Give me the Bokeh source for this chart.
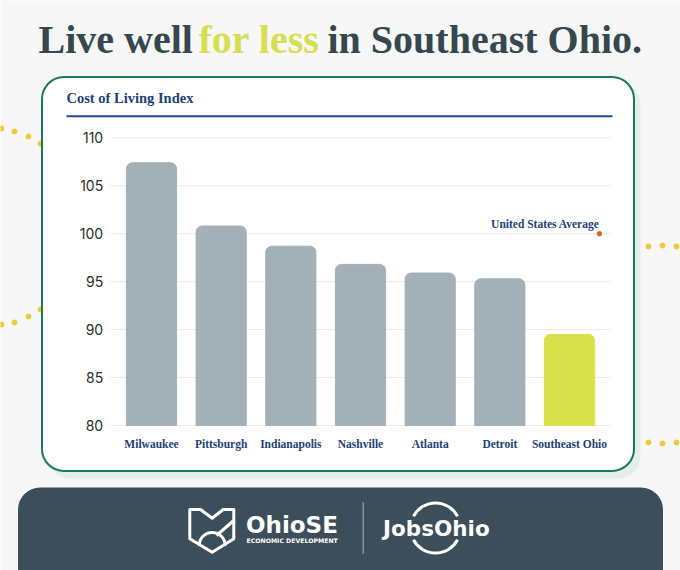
import numpy as np
from bokeh.plotting import figure
from bokeh.models import Range1d
from bokeh.core.properties import value
from bokeh.embed import file_html
from bokeh.resources import INLINE

# ---- data ----
cities = ["Milwaukee", "Pittsburgh", "Indianapolis", "Nashville", "Atlanta", "Detroit", "Southeast Ohio"]
index_values = [107.4, 100.8, 98.7, 96.8, 95.9, 95.3, 89.5]
bar_colors = ["#a3b0b6", "#a3b0b6", "#a3b0b6", "#a3b0b6", "#a3b0b6", "#a3b0b6", "#d8e04a"]
y_ticks = [80, 85, 90, 95, 100, 105, 110]
us_average = 100
title_parts = ["Live well", "for less", "in Southeast Ohio."]
chart_title = "Cost of Living Index"
us_label = "United States Average"

# ---- layout (canvas pixels) ----
W, H = 680, 570
PLOT_L, PLOT_R, PLOT_T, PLOT_B = 110.0, 610.0, 137.3, 425.0
PAD = 0.0885                      # category padding at each side
Y_MIN, Y_MAX = min(y_ticks), max(y_ticks)
NAVY = "#1e3f78"
SERIF = "Liberation Serif"
SANS = "DejaVu Sans"

n = len(cities)
positions = list(range(n))
unit = (PLOT_R - PLOT_L) / (n - 1 + 2 * (0.5 + PAD))
x_left = -0.5 - PAD
x_right = n - 0.5 + PAD
yscale = (PLOT_B - PLOT_T) / (Y_MAX - Y_MIN)

p = figure(width=W, height=H,
           x_range=Range1d(x_left - PLOT_L / unit, x_left + (W - PLOT_L) / unit),
           y_range=Range1d(Y_MIN - (H - PLOT_B) / yscale, Y_MAX + PLOT_T / yscale),
           x_axis_type=None, y_axis_type=None, title_location=None,
           output_backend="svg", toolbar_location=None, min_border=0)
p.extra_x_ranges = {"px": Range1d(0, W)}
p.extra_y_ranges = {"px": Range1d(H, 0)}
p.background_fill_color = "#f7f7f8"
p.border_fill_color = "#f7f7f8"
p.outline_line_color = None
PX = dict(x_range_name="px", y_range_name="px")

# ---- decorations ----
dot_x = [1, 14, 28, 40, 1, 14, 28, 40, 634, 648, 662, 676, 634, 648, 662, 676]
dot_y = [128, 131, 136, 143, 324, 322, 316, 309, 249, 246, 245, 246, 439, 442, 443, 442]
p.scatter(dot_x, dot_y, size=5, color="#f0c83c", **PX)

# card shadow + card
p.quad(left=[47], right=[640], top=[82], bottom=[478], fill_color="#e4eeec",
       line_color=None, border_radius=22, **PX)
p.quad(left=[41.5], right=[633.5], top=[76.5], bottom=[470.5], fill_color="white",
       line_color="#1b7a58", line_width=2, border_radius=22, **PX)
# footer
p.quad(left=[17.5], right=[662.5], top=[487], bottom=[620], fill_color="#3c4e59",
       line_color=None, border_radius=(22, 22, 0, 0), **PX)
# blue rule under the chart title
p.quad(left=[66], right=[612], top=[114.7], bottom=[116.7], fill_color="#1f4b8e",
       line_color=None, **PX)

# headline
p.text(x=[38, 198, 327], y=[38.5, 38.5, 38.5], text=title_parts,
       text_color=["#36474f", "#d4df52", "#36474f"],
       text_font=value(SERIF), text_font_style="bold", text_font_size="40px",
       text_baseline="middle", text_align="left", **PX)

p.text(x=[66], y=[97], text=[chart_title], text_color=NAVY,
       text_font=value(SERIF), text_font_style="bold", text_font_size="14.5px",
       text_baseline="middle", **PX)

# ---- grid + tick labels ----
p.segment(x0=[x_left] * len(y_ticks), x1=[x_right] * len(y_ticks), y0=y_ticks, y1=y_ticks,
          line_color="#e8eaeb", line_width=1)
p.text(x=[x_left] * len(y_ticks), y=y_ticks, text=[str(t) for t in y_ticks],
       x_offset=-7.3, text_align="right", text_baseline="middle",
       text_font=value("Inter"), text_font_size="14px", text_color="#2b2b2b")

# ---- bars ----
p.vbar(x=positions, top=index_values, bottom=Y_MIN, width=0.72, color=bar_colors,
       border_radius=(6, 6, 0, 0))
p.text(x=positions, y=[Y_MIN] * n, text=cities, y_offset=18.3,
       text_align="center", text_baseline="middle",
       text_font=value(SERIF), text_font_style="bold", text_font_size="11.5px",
       text_color=NAVY)

# US average marker
us_x = n - 1 + 0.43
p.scatter(x=[us_x], y=[us_average], size=4.5, color="#d2691e")
p.text(x=[us_x], y=[us_average], text=[us_label], y_offset=-10, text_align="right",
       text_baseline="middle", text_font=value(SERIF), text_font_style="bold",
       text_font_size="11.5px", text_color=NAVY)

# ---- footer logos ----
ox = [189.3, 200, 211.7, 222.7, 233.3, 233.3, 211.7, 189.3]
oy = [509, 509, 517.7, 509, 509, 538.3, 551.7, 538.3]
p.patch(ox + [ox[0]], oy + [oy[0]], fill_alpha=0, line_color="white", line_width=3,
        line_join="round", **PX)
p.arc(x=[211.7], y=[545], radius=13, radius_units="screen", start_angle=0, end_angle=np.pi,
      line_color="white", line_width=3, **PX)
p.segment(x0=[233.3], y0=[520], x1=[216], y1=[535], line_color="white", line_width=3, **PX)

p.text(x=[245.5], y=[524], text=["OhioSE"], text_color="white",
       text_font=value(SANS), text_font_style="bold", text_font_size="23px",
       text_baseline="middle", **PX)
p.text(x=[246], y=[540.3], text=["ECONOMIC DEVELOPMENT"], text_color="white",
       text_font=value(SANS), text_font_style="bold", text_font_size="6.2px",
       text_baseline="middle", **PX)
p.segment(x0=[362.7], y0=[501.7], x1=[362.7], y1=[553.3], line_color="#98a4ab",
          line_width=1.2, **PX)
p.text(x=[382.5], y=[527.5], text=["JobsOhio"], text_color="white",
       text_font=value(SANS), text_font_style="bold", text_font_size="21.5px",
       text_baseline="middle", **PX)
p.arc(x=[435, 435], y=[527.5, 527.5], radius=25, radius_units="screen",
      start_angle=[np.radians(28), np.radians(208)], end_angle=[np.radians(152), np.radians(332)],
      line_color="white", line_width=3, **PX)

open("out.html", "w").write(file_html(p, INLINE))
